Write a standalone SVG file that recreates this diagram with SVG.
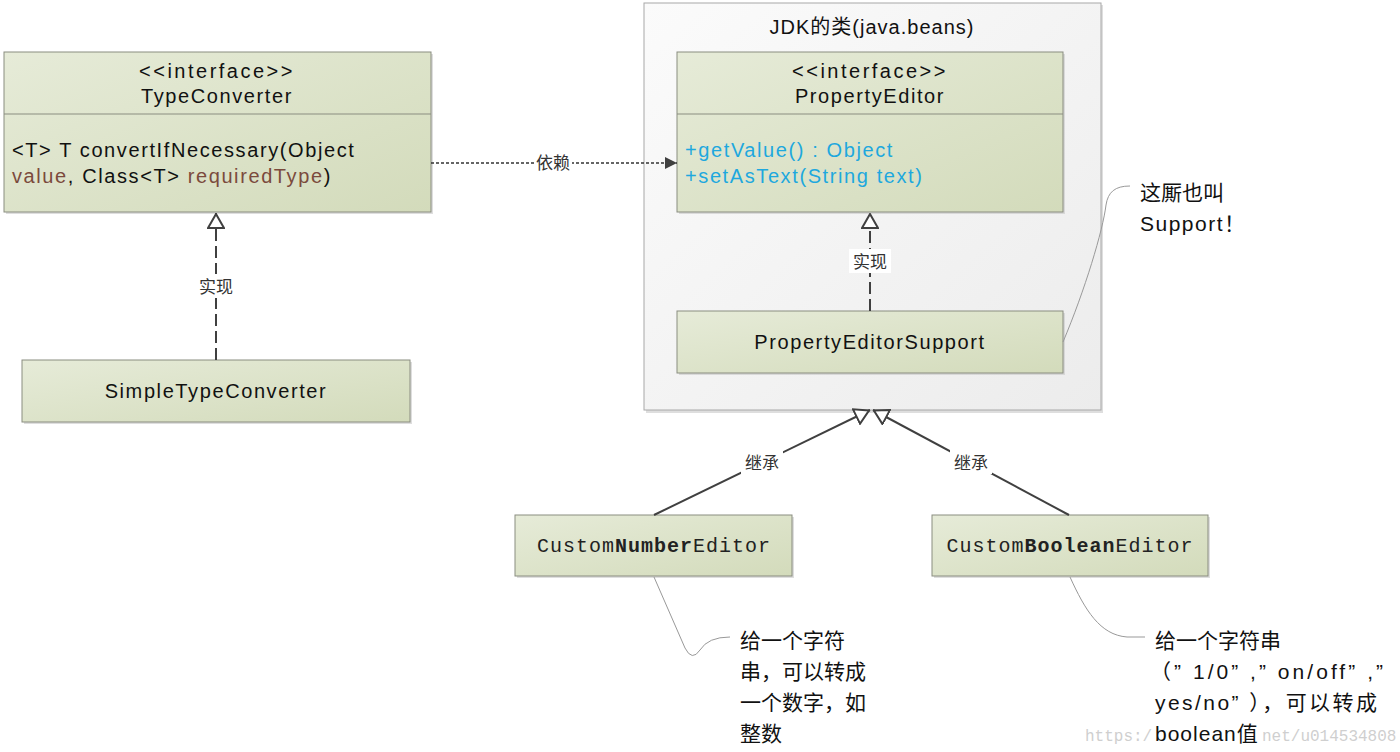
<svg xmlns="http://www.w3.org/2000/svg" width="1400" height="752" viewBox="0 0 1400 752">
<defs>
  <linearGradient id="g" x1="0" y1="0" x2="1" y2="1">
    <stop offset="0" stop-color="#e6ebd8"/>
    <stop offset="1" stop-color="#d3dbbb"/>
  </linearGradient>
  <linearGradient id="pk" x1="0" y1="0" x2="1" y2="1">
    <stop offset="0" stop-color="#fbfbfb"/>
    <stop offset="1" stop-color="#ececec"/>
  </linearGradient>
  <marker id="dep" viewBox="0 0 12 12" refX="12" refY="6" markerWidth="12" markerHeight="12" markerUnits="userSpaceOnUse" orient="auto">
    <path d="M0,0 L12,6 L0,12 Z" fill="#404040"/>
  </marker>
  <marker id="tri" viewBox="0 0 16 18" refX="16" refY="9" markerWidth="16" markerHeight="18" markerUnits="userSpaceOnUse" orient="auto">
    <path d="M15,9 L1,1 L1,17 Z" fill="#fff" stroke="#404040" stroke-width="2"/>
  </marker>
</defs>
<style>
  .box{fill:url(#g);stroke:#8a8d80;stroke-width:1}
  .sh{fill:#c8c8c8;opacity:.6}
  .t{font-family:"Liberation Sans","Noto Sans CJK SC",sans-serif;font-size:20px;fill:#111;letter-spacing:1.6px}
  .i{letter-spacing:2.5px}
  .m{font-family:"Liberation Mono",monospace;font-size:20px;fill:#222;letter-spacing:1px}
  .lbl{font-family:"Noto Sans CJK SC",sans-serif;font-size:17px;fill:#333}
  .note{font-family:"Liberation Sans","Noto Sans CJK SC",sans-serif;font-size:21px;fill:#111}
  .wm{font-family:"Liberation Mono",monospace;font-size:16px;fill:#cfcfcf}
  .ln{fill:none;stroke:#404040;stroke-width:2}
  .nl{fill:none;stroke:#999;stroke-width:1}
  .blue{fill:#1ea8de}
</style>
<rect width="1400" height="752" fill="#fff"/>

<g id="package">
  <rect class="sh" x="646" y="5" width="457" height="408"/>
  <rect x="644" y="3" width="457" height="407" fill="url(#pk)" stroke="#a8a8a8"/>
  <text class="t" x="872" y="34" text-anchor="middle" style="letter-spacing:1px">JDK的类(java.beans)</text>
</g>

<g id="TypeConverter">
  <rect class="sh" x="6" y="54" width="427" height="160"/>
  <rect class="box" x="4" y="52" width="427" height="160"/>
  <line x1="4" y1="114" x2="431" y2="114" stroke="#8a8d80"/>
  <text class="t i" x="217" y="78" text-anchor="middle">&lt;&lt;interface&gt;&gt;</text>
  <text class="t" x="217" y="103" text-anchor="middle">TypeConverter</text>
  <text class="t" x="12" y="157">&lt;T&gt; T convertIfNecessary(Object</text>
  <text class="t" x="12" y="183"><tspan fill="#7b4a3c">value</tspan>, Class&lt;T&gt; <tspan fill="#7b4a3c">requiredType</tspan>)</text>
</g>

<g id="SimpleTypeConverter">
  <rect class="sh" x="24" y="362" width="388" height="62"/>
  <rect class="box" x="22" y="360" width="388" height="62"/>
  <text class="t" x="216" y="398" text-anchor="middle">SimpleTypeConverter</text>
</g>

<g id="PropertyEditor">
  <rect class="sh" x="679" y="54" width="386" height="160"/>
  <rect class="box" x="677" y="52" width="386" height="160"/>
  <line x1="677" y1="114" x2="1063" y2="114" stroke="#8a8d80"/>
  <text class="t i" x="870" y="78" text-anchor="middle">&lt;&lt;interface&gt;&gt;</text>
  <text class="t" x="870" y="103" text-anchor="middle">PropertyEditor</text>
  <text class="t blue" x="685" y="157">+getValue() : Object</text>
  <text class="t blue" x="685" y="183">+setAsText(String text)</text>
</g>

<g id="PropertyEditorSupport">
  <rect class="sh" x="679" y="313" width="386" height="62"/>
  <rect class="box" x="677" y="311" width="386" height="62"/>
  <text class="t" x="870" y="349" text-anchor="middle">PropertyEditorSupport</text>
</g>

<g id="CustomNumberEditor">
  <rect class="sh" x="517" y="517" width="277" height="61"/>
  <rect class="box" x="515" y="515" width="277" height="61"/>
  <text class="m" x="654" y="552" text-anchor="middle">Custom<tspan font-weight="bold">Number</tspan>Editor</text>
</g>

<g id="CustomBooleanEditor">
  <rect class="sh" x="934" y="517" width="276" height="61"/>
  <rect class="box" x="932" y="515" width="276" height="61"/>
  <text class="m" x="1070" y="552" text-anchor="middle">Custom<tspan font-weight="bold">Boolean</tspan>Editor</text>
</g>

<g id="connectors">
  <line x1="431" y1="163" x2="677" y2="163" stroke="#333" stroke-width="1.6" stroke-dasharray="3 2" marker-end="url(#dep)"/>
  <rect x="535" y="152" width="37" height="22" fill="#fff"/>
  <text class="lbl" x="553" y="169" text-anchor="middle" font-size="16">依赖</text>

  <line class="ln" x1="216" y1="360" x2="216" y2="213" stroke-dasharray="12 5" marker-end="url(#tri)"/>
  <rect x="195" y="274" width="42" height="24" fill="#fff"/>
  <text class="lbl" x="216" y="293" text-anchor="middle">实现</text>

  <line class="ln" x1="870" y1="311" x2="870" y2="213" stroke-dasharray="12 5" marker-end="url(#tri)"/>
  <rect x="849" y="249" width="42" height="24" fill="#fff"/>
  <text class="lbl" x="870" y="268" text-anchor="middle">实现</text>

  <line class="ln" x1="654" y1="515" x2="870" y2="410" marker-end="url(#tri)"/>
  <rect x="741" y="450" width="42" height="24" fill="#fff"/>
  <text class="lbl" x="762" y="469" text-anchor="middle">继承</text>

  <line class="ln" x1="1069" y1="515" x2="873" y2="410" marker-end="url(#tri)"/>
  <rect x="950" y="450" width="42" height="24" fill="#fff"/>
  <text class="lbl" x="971" y="469" text-anchor="middle">继承</text>

  <path class="nl" d="M1063,342 C1085,290 1103,230 1106,205 C1108,192 1115,186 1130,186"/>
  <path class="nl" d="M654,577 L685,648 Q692,662 700,650 Q708,637 730,637"/>
  <path class="nl" d="M1070,577 C1085,610 1100,635 1127,637 L1145,637"/>
</g>

<g id="notes">
  <text class="note" x="1140" y="200">这厮也叫</text>
  <text class="note" x="1140" y="231" letter-spacing="1.5">Support！</text>

  <text class="note" x="740" y="648">给一个字符</text>
  <text class="note" x="740" y="679">串，可以转成</text>
  <text class="note" x="740" y="710">一个数字，如</text>
  <text class="note" x="740" y="741">整数</text>

  <text class="wm" x="1085" y="741">https:/</text>
  <text class="wm" x="1262" y="741">net/u014534808</text>
  <text class="note" x="1155" y="648">给一个字符串</text>
  <text class="note" x="1150" y="679" textLength="233" lengthAdjust="spacing">（” 1/0” ,” on/off” ,”</text>
  <text class="note" x="1155" y="710" textLength="222" lengthAdjust="spacing">yes/no” ），可以转成</text>
  <text class="note" x="1155" y="741" letter-spacing="1">boolean值</text>
</g>
</svg>
